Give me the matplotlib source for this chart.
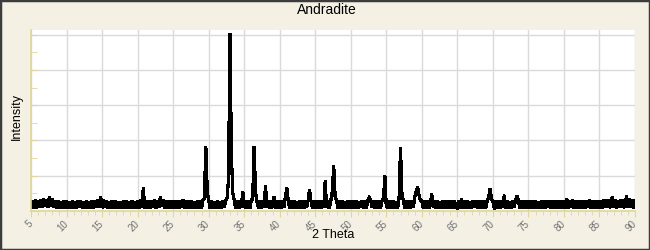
import matplotlib
matplotlib.use('Agg')
import matplotlib.pyplot as plt
from matplotlib.patches import Rectangle
from matplotlib.ticker import MultipleLocator
import numpy as np

plt.rcParams['font.family'] = ['Liberation Sans', 'DejaVu Sans']

# scan settings (degrees 2 theta)
START = 5.0
STOP = 90.0
STEP = 0.2

# intensity (counts), one row per 5 degrees
counts_05 = [100, 290, 80, 310, 90, 300, 110, 320, 100, 340, 120, 330, 110, 420, 130, 350, 100, 300, 80, 280, 70, 270, 90, 290, 80]
counts_10 = [280, 70, 270, 90, 290, 80, 260, 70, 280, 100, 300, 80, 270, 70, 290, 90, 260, 80, 280, 70, 300, 100, 330, 110, 400]
counts_15 = [90, 320, 110, 290, 80, 270, 70, 280, 90, 300, 80, 260, 70, 270, 80, 290, 90, 280, 70, 260, 80, 300, 90, 270, 70]
counts_20 = [290, 80, 310, 100, 650, 80, 280, 90, 300, 70, 290, 100, 310, 90, 280, 110, 400, 120, 320, 90, 290, 80, 300, 70, 280]
counts_25 = [80, 300, 90, 280, 70, 290, 100, 310, 90, 290, 80, 280, 70, 300, 90, 270, 80, 290, 70, 280, 90, 300, 350, 1840, 550]
counts_30 = [300, 90, 290, 80, 270, 70, 280, 90, 260, 80, 290, 100, 300, 380, 900, 5040, 1600, 500, 300, 80, 280, 70, 300, 90, 560]
counts_35 = [90, 290, 70, 280, 80, 300, 350, 1840, 520, 270, 80, 290, 90, 280, 110, 720, 100, 300, 80, 290, 90, 400, 80, 280, 70]
counts_40 = [290, 80, 300, 100, 400, 650, 300, 90, 280, 70, 290, 90, 270, 80, 300, 90, 280, 70, 290, 100, 310, 600, 280, 80, 300]
counts_45 = [80, 290, 90, 280, 70, 300, 100, 850, 90, 280, 80, 300, 550, 1300, 400, 290, 80, 280, 90, 300, 70, 270, 80, 290, 90]
counts_50 = [280, 80, 300, 90, 290, 70, 270, 100, 300, 80, 280, 90, 310, 380, 330, 100, 290, 80, 280, 70, 300, 90, 290, 350, 1000]
counts_55 = [90, 290, 80, 280, 70, 300, 90, 270, 80, 380, 1790, 480, 300, 90, 290, 80, 280, 70, 300, 100, 400, 550, 680, 450, 300]
counts_60 = [290, 80, 280, 90, 300, 70, 200, 480, 100, 280, 80, 300, 90, 270, 70, 290, 80, 280, 90, 300, 80, 290, 70, 280, 90]
counts_65 = [80, 290, 90, 340, 70, 280, 80, 300, 90, 270, 70, 290, 100, 300, 80, 280, 90, 290, 70, 300, 80, 280, 380, 620, 350]
counts_70 = [280, 60, 290, 80, 300, 90, 280, 100, 450, 80, 290, 90, 270, 70, 300, 100, 310, 430, 300, 80, 280, 90, 290, 70, 280]
counts_75 = [80, 290, 70, 280, 90, 300, 80, 270, 70, 290, 90, 280, 80, 300, 100, 290, 80, 280, 90, 300, 70, 290, 80, 280, 90]
counts_80 = [300, 90, 340, 80, 290, 100, 310, 70, 280, 90, 300, 80, 290, 90, 280, 70, 300, 100, 310, 80, 290, 90, 300, 80, 290]
counts_85 = [90, 300, 80, 310, 100, 330, 110, 320, 90, 400, 100, 310, 90, 300, 110, 330, 100, 320, 90, 430, 110, 340, 100, 320, 90]
counts_90 = [300]

intensity = (counts_05 + counts_10 + counts_15 + counts_20 + counts_25 + counts_30 +
             counts_35 + counts_40 + counts_45 + counts_50 + counts_55 + counts_60 +
             counts_65 + counts_70 + counts_75 + counts_80 + counts_85 + counts_90)
two_theta = START + STEP * np.arange(len(intensity))

x_ticks = list(range(5, 91, 5))

BG = '#F4F1E4'
AXIS = '#E0D69A'
GRID = '#DADADA'

fig = plt.figure(figsize=(6.5, 2.5), dpi=100, facecolor=BG)
ax = fig.add_axes([31 / 650, 1 - 211 / 250, 604 / 650, 181 / 250])
ax.set_facecolor('white')

ax.plot(two_theta, intensity, color='black', linewidth=1.6, solid_joinstyle='miter',
        antialiased=False)

ax.set_xlim(START, STOP)
ax.set_ylim(0, 5130)
ax.set_xticks(x_ticks)
ax.xaxis.set_minor_locator(MultipleLocator(1))
ax.yaxis.set_major_locator(MultipleLocator(1000))
ax.yaxis.set_minor_locator(MultipleLocator(500))
ax.set_yticklabels([])
ax.grid(True, which='major', color=GRID, linewidth=1.0)
ax.set_axisbelow(True)

for side in ['top', 'right']:
    ax.spines[side].set_visible(False)
for side in ['left', 'bottom']:
    ax.spines[side].set_color(AXIS)
    ax.spines[side].set_linewidth(1.2)

ax.tick_params(axis='x', which='both', direction='out', color=AXIS, labelsize=7,
               labelcolor='#707070', labelrotation=45, pad=4)
ax.tick_params(axis='x', which='major', length=4)
ax.tick_params(axis='x', which='minor', length=3)
ax.tick_params(axis='y', which='both', direction='in', color=AXIS, length=4)
for lbl in ax.get_xticklabels():
    lbl.set_ha('right')
    lbl.set_va('center')
    lbl.set_rotation_mode('anchor')

fig.text(327 / 650, 1 - 10 / 250, 'Andradite', ha='center', va='center', fontsize=10)
fig.text(333 / 650, 1 - 235 / 250, '2 Theta', ha='center', va='center', fontsize=9)
fig.text(17 / 650, 1 - 117 / 250, 'Intensity', ha='center', va='center', fontsize=9, rotation=90)

fig.patches.append(Rectangle((0, 0), 1, 1, transform=fig.transFigure, fill=False,
                             edgecolor='#3C3C3C', linewidth=2.5))

fig.savefig('out.png', dpi=100, facecolor=BG)
